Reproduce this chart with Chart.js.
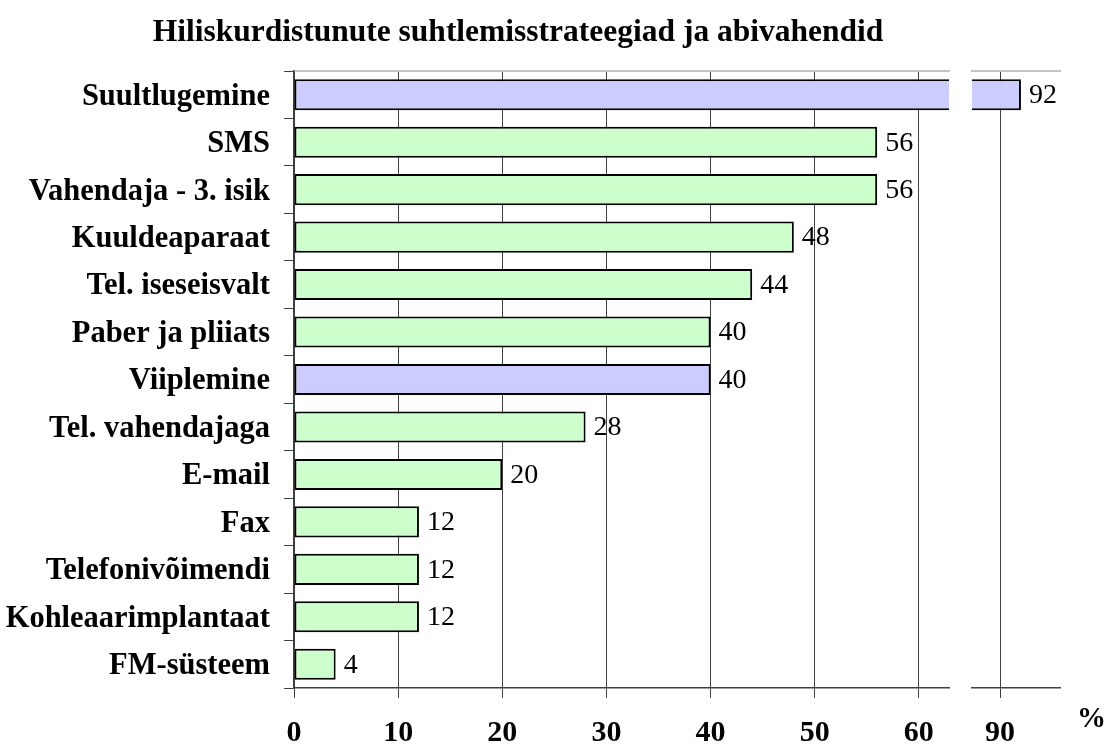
<!DOCTYPE html>
<html>
<head>
<meta charset="utf-8">
<script src="https://cdn.jsdelivr.net/npm/chart.js@4.4.1/dist/chart.umd.min.js"></script>
<style>
  html, body { margin: 0; padding: 0; background: #ffffff; }
  #wrap { position: relative; width: 1104px; height: 746px; overflow: hidden; }
  #c1 { position: absolute; left: 0; top: 0; }
  #c2 { position: absolute; left: 950px; top: 0; }
  #pct { position: absolute; left: 1077px; top: 701px; font: bold 29px "Liberation Serif", serif; color: #000; }
</style>
</head>
<body>
<div id="wrap">
  <canvas id="c1" width="1036" height="746"></canvas>
  <canvas id="c2" width="154" height="746"></canvas>
  <div id="pct">%</div>
</div>
<script>
// ---- data ----
const chartTitle = "Hiliskurdistunute suhtlemisstrateegiad ja abivahendid";
const categories = [
  "Suultlugemine", "SMS", "Vahendaja - 3. isik", "Kuuldeaparaat",
  "Tel. iseseisvalt", "Paber ja pliiats", "Viiplemine", "Tel. vahendajaga",
  "E-mail", "Fax", "Telefonivõimendi", "Kohleaarimplantaat", "FM-süsteem"
];
const values = [92, 56, 56, 48, 44, 40, 40, 28, 20, 12, 12, 12, 4];
const highlighted = ["Suultlugemine", "Viiplemine"];
const leftTicks = [0, 10, 20, 30, 40, 50, 60];
const rightTicks = [90];
const leftRange = [0, 62.9];
const rightRange = [87.3, 95.75];

// ---- styles ----
const SERIF = '"Liberation Serif", "Times New Roman", serif';
const BLUE = '#CCCCFF', GREEN = '#CCFFCC';
const GRID = '#404040';
const TOPLINE = '#c4c4c4';

function barColor(ctx) {
  return highlighted.includes(categories[ctx.dataIndex]) ? BLUE : GREEN;
}

const valueLabels = {
  id: 'valueLabels',
  afterDatasetsDraw(chart) {
    const ctx = chart.ctx;
    const xs = chart.scales.x;
    const meta = chart.getDatasetMeta(0);
    ctx.save();
    ctx.font = '28px ' + SERIF;
    ctx.fillStyle = '#000';
    ctx.textAlign = 'left';
    ctx.textBaseline = 'middle';
    meta.data.forEach((bar, i) => {
      const v = values[i];
      if (v < xs.min || v > xs.max) return;
      ctx.fillText(String(v), bar.x + 8, bar.y + 1);
    });
    ctx.restore();
  }
};

function makeOptions(range, tickList, isLeft) {
  const scales = {
    x: {
      type: 'linear',
      position: 'bottom',
      min: range[0],
      max: range[1],
      afterBuildTicks(s) { s.ticks = tickList.map(v => ({ value: v })); },
      afterFit(s) { s.height = 58; },
      ticks: {
        color: '#000',
        font: { family: SERIF, size: 30, weight: 'bold' },
        padding: 17,
        maxRotation: 0,
        autoSkip: false
      },
      grid: { color: GRID, lineWidth: 1, tickLength: 10, drawTicks: true },
      border: { display: true, color: GRID, width: 1.5 }
    },
    xTop: {
      type: 'linear',
      position: 'top',
      min: range[0],
      max: range[1],
      ticks: { display: false },
      grid: { display: false, drawTicks: false },
      border: { display: true, color: TOPLINE, width: 2 },
      afterFit(s) { s.height = 0; }
    },
    y: {
      type: 'category',
      display: isLeft,
      offset: true,
      afterFit(s) { if (isLeft) s.width = 294; },
      ticks: {
        color: '#000',
        font: { family: SERIF, size: 30.5, weight: 'bold' },
        padding: 14,
        labelOffset: 2,
        autoSkip: false
      },
      grid: { offset: true, drawOnChartArea: false, color: GRID, tickLength: 10 },
      border: { display: true, color: GRID, width: 1.5 }
    }
  };
  if (isLeft) {
    // empty spacer on the right: keeps the plot narrower than the title band
    scales.ySpacer = {
      type: 'category',
      position: 'right',
      ticks: { display: false },
      grid: { display: false, drawTicks: false },
      border: { display: false },
      afterFit(s) { s.width = 87; }
    };
  }
  return {
    responsive: false,
    animation: false,
    indexAxis: 'y',
    layout: { padding: isLeft ? { left: 0, right: 0, top: 0, bottom: 0 } : { left: 22, right: 44, top: 71, bottom: 0 } },
    plugins: {
      legend: { display: false },
      tooltip: { enabled: false },
      title: isLeft ? {
        display: true,
        text: chartTitle,
        color: '#000',
        font: { family: SERIF, size: 31.5, weight: 'bold' },
        padding: { top: 14, bottom: 19.2 }
      } : { display: false }
    },
    scales
  };
}

function makeData() {
  return {
    labels: categories,
    datasets: [{
      data: values,
      backgroundColor: barColor,
      borderColor: '#000',
      borderWidth: 2,
      borderSkipped: false,
      categoryPercentage: 1,
      barPercentage: 0.655,
      clip: 0,
      xAxisID: 'x',
      yAxisID: 'y'
    }]
  };
}

new Chart(document.getElementById('c1'), {
  type: 'bar',
  data: makeData(),
  options: makeOptions(leftRange, leftTicks, true),
  plugins: [valueLabels]
});

new Chart(document.getElementById('c2'), {
  type: 'bar',
  data: makeData(),
  options: makeOptions(rightRange, rightTicks, false),
  plugins: [valueLabels]
});
</script>
</body>
</html>
